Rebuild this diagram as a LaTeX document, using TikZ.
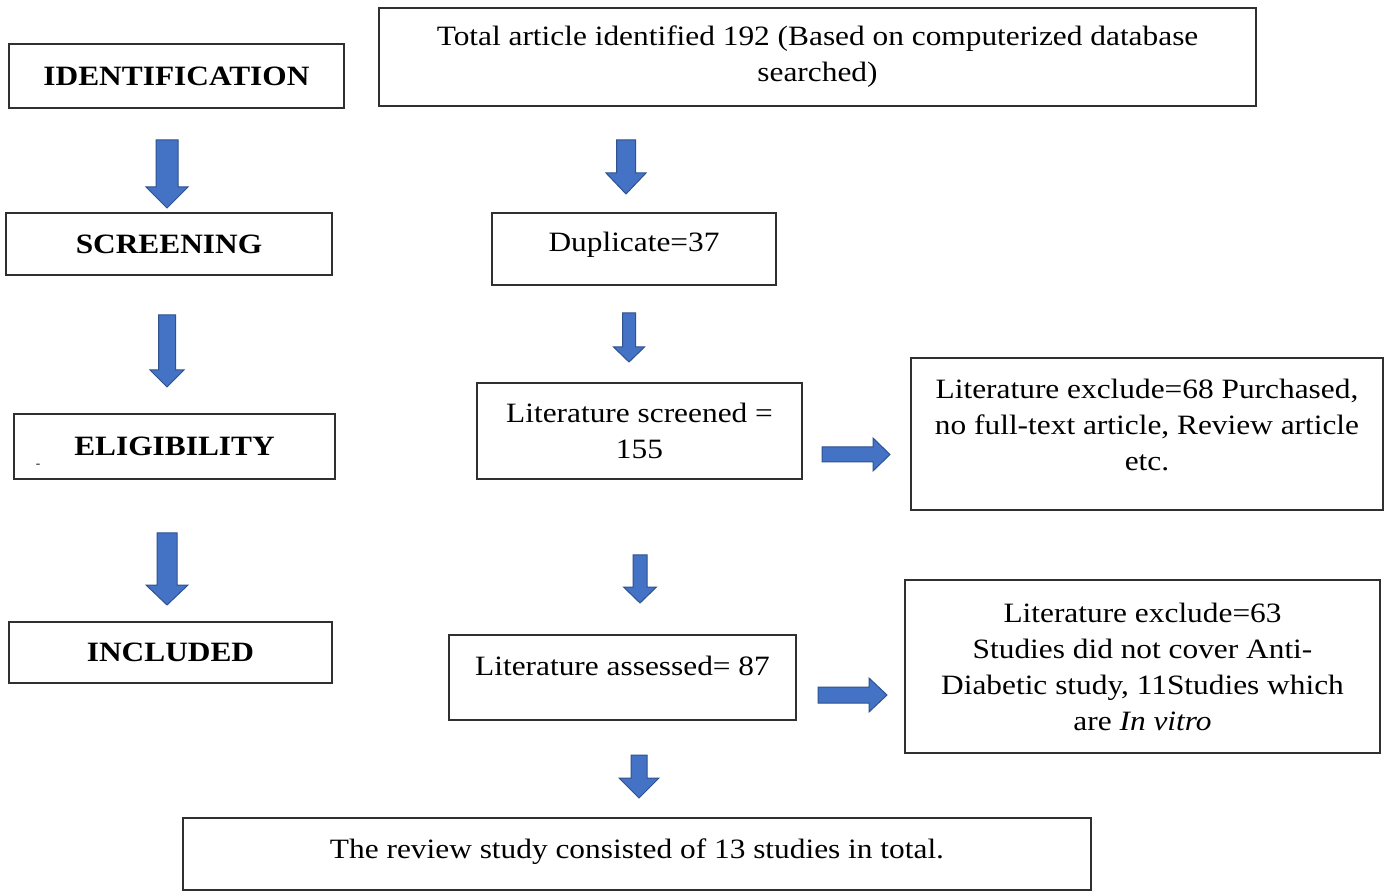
\documentclass[tikz,border=0pt]{standalone}
\usepackage{fontspec}
\setmainfont{Liberation Serif}[FakeStretch=1.12]
\definecolor{arrowblue}{HTML}{4472C4}
\definecolor{arrowedge}{HTML}{2F528F}
\definecolor{boxline}{HTML}{303030}
\newcommand{\downblock}[6]{%
  \filldraw[blockarrow] ({#1-#4},#2) -- ({#1+#4},#2) -- ({#1+#4},{#3-#6}) -- ({#1+#5},{#3-#6}) -- (#1,#3) -- ({#1-#5},{#3-#6}) -- ({#1-#4},{#3-#6}) -- cycle;}
\newcommand{\rightblock}[6]{%
  \filldraw[blockarrow] (#2,{#1-#4}) -- (#2,{#1+#4}) -- ({#3-#6},{#1+#4}) -- ({#3-#6},{#1+#5}) -- (#3,#1) -- ({#3-#6},{#1-#5}) -- ({#3-#6},{#1-#4}) -- cycle;}
\begin{document}
\begin{tikzpicture}[x=0.5pt,y=-0.5pt,
  box/.style={draw=boxline, line width=0.75pt, fill=white, inner sep=0pt, align=center,
    font=\fontsize{14}{18}\selectfont},
  plain/.style={inner sep=0pt, align=center, font=\fontsize{14}{18}\selectfont},
  stage/.style={box, font=\fontsize{14}{18}\selectfont\bfseries},
  blockarrow/.style={fill=arrowblue, draw=arrowedge, line width=0.5pt, line join=miter}]
\fill[white] (0,0) rectangle (1386,892);
\useasboundingbox (0,0) rectangle (1386,892);

% left column
\node[stage, minimum width=167.5pt, minimum height=32pt] (ident) at (176.5,76) {IDENTIFICATION};
\node[stage, minimum width=163pt, minimum height=31pt] (screen) at (169,244) {SCREENING};
\node[stage, minimum width=160.5pt, minimum height=32.5pt] (elig) at (174.5,446.5) {ELIGIBILITY};
\node[font=\fontsize{6}{6}\selectfont, inner sep=0pt] (dash) at (38,466) {-};
\node[stage, minimum width=161.5pt, minimum height=30.5pt] (incl) at (170.5,652.5) {INCLUDED};

% middle column
\node[box, minimum width=438.5pt, minimum height=49pt] (total) at (817.5,57)
  {Total article identified 192 (Based on computerized database\\searched)};
\node[box, minimum width=142pt, minimum height=36pt, text depth=7.5pt] (dup) at (634,249) {Duplicate=37};
\node[box, minimum width=162.5pt, minimum height=48pt] (scr) at (639.5,431) {Literature screened =\\155};
\node[box, minimum width=173.5pt, minimum height=42.5pt, text depth=12pt] (ass) at (622.5,677.5) {Literature assessed= 87};
\node[box, minimum width=454pt, minimum height=36pt, text depth=5.4pt] (final) at (637,854)
  {The review study consisted of 13 studies in total.};

% right column
\node[box, minimum width=236pt, minimum height=76pt] (exc1) at (1147,434) {};
\node[plain] (exc1text) at (1147,425)
  {Literature exclude=68 Purchased,\\no full-text article, Review article\\etc.};
\node[box, minimum width=237.5pt, minimum height=86.5pt] (exc2) at (1142.5,666.5)
  {Literature exclude=63\\Studies did not cover Anti-\\Diabetic study, 11Studies which\\are \textit{In vitro}};

% block arrows (left)
\downblock{167}{140}{208}{11}{21}{21}
\downblock{167}{315}{387}{8.5}{17}{17}
\downblock{167}{533}{605}{10}{21}{20}
% block arrows (middle)
\downblock{626}{140}{194}{9.5}{20}{21}
\downblock{629}{313}{362}{6.5}{15.5}{15}
\downblock{640}{555}{603}{7}{16.5}{16}
\downblock{639}{755}{798}{8}{20}{20}
% block arrows (right)
\rightblock{454.5}{822}{890}{7.5}{16.5}{17}
\rightblock{695}{818}{887}{8}{17}{18}
\end{tikzpicture}
\end{document}
